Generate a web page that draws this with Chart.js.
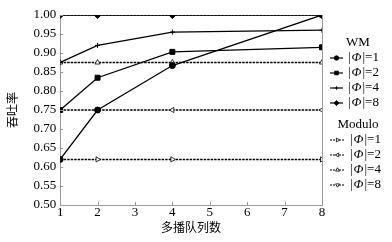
<!DOCTYPE html>
<html>
<head>
<meta charset="utf-8">
<script src="https://cdn.jsdelivr.net/npm/chart.js@4"></script>
<style>
  html, body { margin: 0; padding: 0; background: #fff; }
  #wrap { width: 392px; height: 242px; }
</style>
</head>
<body>
<div id="wrap"><canvas id="chart1"></canvas></div>
<script>
// data
const queues = [1, 2, 4, 8];
const wm1 = [0.62, 0.75, 0.867, 1.00];
const wm2 = [0.75, 0.835, 0.903, 0.915];
const wm4 = [0.875, 0.92, 0.955, 0.96];
const wm8 = [1.00, 1.00, 1.00, 1.00];
const mod1 = [0.62, 0.62, 0.62, 0.62];
const mod2 = [0.75, 0.75, 0.75, 0.75];
const mod4 = [0.875, 0.875, 0.875, 0.875];
const mod8 = [1.00, 1.00, 1.00, 1.00];
const phiLabels = ['1', '2', '4', '8'];

const serif = '"Liberation Serif", "Times New Roman", serif';
const toXY = (vals) => vals.map((v, i) => ({ x: queues[i], y: v }));

const wmSet = (vals, style, r) => ({
    data: toXY(vals),
    borderColor: '#000',
    backgroundColor: '#000',
    borderWidth: 1.3,
    pointStyle: style,
    pointRadius: r,
    pointBorderColor: '#000',
    pointBackgroundColor: '#000',
    pointBorderWidth: 1,
    tension: 0
});

const modSet = (vals, rot) => ({
    data: toXY(vals),
    borderColor: '#000',
    backgroundColor: '#fff',
    borderWidth: 1.5,
    borderDash: [2.5, 1],
    pointStyle: 'triangle',
    pointRotation: rot,
    pointRadius: 3,
    pointBorderColor: '#000',
    pointBackgroundColor: '#fff',
    pointBorderWidth: 0.8,
    tension: 0
});

// custom grouped legend on the right
const groupLegend = {
    id: 'groupLegend',
    afterDraw(chart) {
        const ctx = chart.ctx;
        const x0 = chart.chartArea.right + 8;
        const groups = [
            { title: 'WM', y: 43, sets: [0, 1, 2, 3], dashed: false },
            { title: 'Modulo', y: 125, sets: [4, 5, 6, 7], dashed: true }
        ];
        ctx.save();
        ctx.textBaseline = 'middle';
        groups.forEach(g => {
            ctx.fillStyle = '#000';
            ctx.font = '13px ' + serif;
            ctx.textAlign = 'center';
            ctx.fillText(g.title, x0 + 28, g.y);
            g.sets.forEach((di, k) => {
                const ds = chart.data.datasets[di];
                const y = g.y + 15 + k * 15;
                const len = g.dashed ? 15 : 13;
                ctx.strokeStyle = '#000';
                ctx.lineWidth = 1.2;
                ctx.setLineDash(g.dashed ? [2, 1] : []);
                ctx.beginPath();
                ctx.moveTo(x0, y);
                ctx.lineTo(x0 + len, y);
                ctx.stroke();
                ctx.setLineDash([]);
                ctx.fillStyle = ds.pointBackgroundColor;
                ctx.strokeStyle = '#000';
                ctx.lineWidth = 0.8;
                Chart.helpers.drawPoint(ctx, {
                    pointStyle: ds.pointStyle,
                    rotation: ds.pointRotation || 0,
                    radius: ds.pointRadius * 0.75,
                    borderWidth: 0.8
                }, x0 + len / 2, y);
                // label |Φ|=n with italic Φ
                ctx.fillStyle = '#000';
                ctx.textAlign = 'left';
                let tx = x0 + len + 5;
                ctx.font = '13px ' + serif;
                ctx.fillText('|', tx, y);
                tx += ctx.measureText('|').width + 1;
                ctx.font = 'italic 13px ' + serif;
                ctx.fillText('Φ', tx, y);
                tx += ctx.measureText('Φ').width + 1;
                ctx.font = '13px ' + serif;
                ctx.fillText('|=' + phiLabels[k], tx, y);
            });
        });
        ctx.restore();
    }
};

// thin right border and short inward tick marks
const frame = {
    id: 'frame',
    afterDraw(chart) {
        const a = chart.chartArea;
        const c = chart.ctx;
        c.save();
        c.strokeStyle = '#999';
        c.lineWidth = 1;
        c.beginPath();
        c.moveTo(a.right + 0.5, a.top);
        c.lineTo(a.right + 0.5, a.bottom);
        chart.scales.x.ticks.forEach(t => {
            const px = Math.round(chart.scales.x.getPixelForValue(t.value)) + 0.5;
            c.moveTo(px, a.bottom);
            c.lineTo(px, a.bottom - 3);
        });
        chart.scales.y.ticks.forEach(t => {
            const py = Math.round(chart.scales.y.getPixelForValue(t.value)) + 0.5;
            c.moveTo(a.left, py);
            c.lineTo(a.left + 3, py);
        });
        c.stroke();
        c.restore();
    }
};

const createChart = (ctx) => {
    new Chart(ctx, {
        type: 'line',
        data: {
            datasets: [
                wmSet(wm1, 'circle', 3),
                wmSet(wm2, 'rect', 3.5),
                wmSet(wm4, 'cross', 2.5),
                wmSet(wm8, 'rectRot', 3.5),
                modSet(mod1, 90),
                modSet(mod2, -90),
                modSet(mod4, 0),
                modSet(mod8, 180)
            ]
        },
        options: {
            responsive: true,
            maintainAspectRatio: false,
            animation: false,
            layout: { padding: { top: 15, right: 70, left: 5, bottom: 7 } },
            plugins: {
                legend: { display: false },
                tooltip: { enabled: false }
            },
            scales: {
                x: {
                    type: 'linear',
                    min: 1,
                    max: 8,
                    border: { color: '#999', width: 1 },
                    grid: { display: false, drawTicks: false },
                    ticks: { stepSize: 1, color: '#000', padding: 0, font: { family: serif, size: 13 } },
                    title: {
                        display: true,
                        text: '多播队列数',
                        color: '#000',
                        padding: { top: 0, bottom: 0 },
                        font: { family: '"Noto Sans CJK SC"', size: 12 }
                    }
                },
                y: {
                    min: 0.5,
                    max: 1.0,
                    border: { color: '#999', width: 1 },
                    grid: { display: false, drawTicks: false },
                    ticks: {
                        stepSize: 0.05,
                        color: '#000',
                        padding: 4,
                        font: { family: serif, size: 13 },
                        callback: (v) => v.toFixed(2)
                    },
                    title: {
                        display: true,
                        text: '吞吐率',
                        color: '#000',
                        padding: { top: 0, bottom: 10 },
                        font: { family: '"Noto Sans CJK SC"', size: 12 }
                    }
                }
            }
        },
        plugins: [groupLegend, frame]
    });
};

window.onload = () => {
    const ctx1 = document.getElementById('chart1').getContext('2d');
    createChart(ctx1);
};
</script>
</body>
</html>
